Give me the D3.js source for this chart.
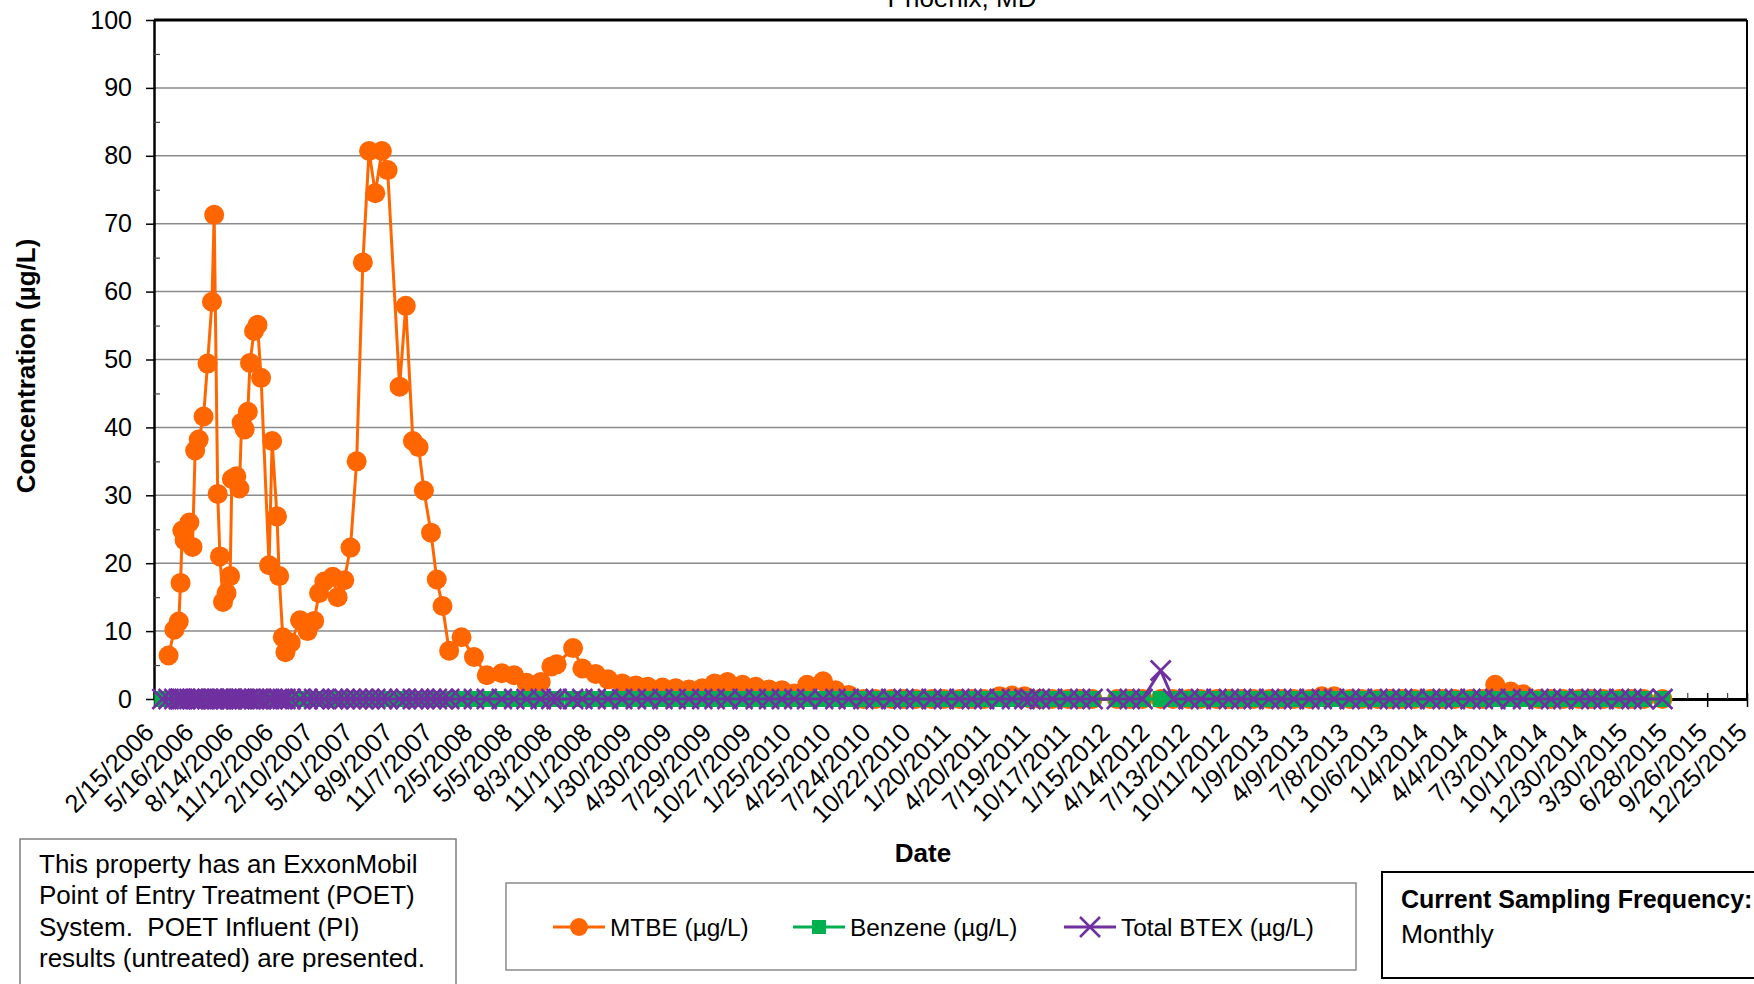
<!DOCTYPE html>
<html>
<head>
<meta charset="utf-8">
<script src="https://cdn.jsdelivr.net/npm/d3@7"></script>
<style>
  html, body { margin: 0; padding: 0; background: #fff; overflow: hidden; }
  svg { display: block; }
  text { font-family: "Liberation Sans", Arial, sans-serif; }
</style>
</head>
<body>
<svg id="chart" width="1754" height="984"></svg>
<script>
// === DATA ===

const chartTitle = 'Phoenix, MD';
const yTitle = 'Concentration (µg/L)';
const xTitle = 'Date';
const seriesNames = ['MTBE (µg/L)', 'Benzene (µg/L)', 'Total BTEX (µg/L)'];

// sampling dates, one row per year
const sampleDates = [
  '3/6/2006','3/20/2006','4/2/2006','4/12/2006','4/16/2006','4/20/2006','4/25/2006','5/6/2006','5/13/2006','5/19/2006',
  '5/27/2006','6/7/2006','6/16/2006','6/26/2006','7/1/2006','7/9/2006','7/14/2006','7/21/2006','7/29/2006','8/6/2006',
  '8/10/2006','8/20/2006','8/27/2006','9/1/2006','9/8/2006','9/15/2006','9/20/2006','9/29/2006','10/7/2006','10/15/2006',
  '11/2/2006','11/9/2006','11/20/2006','11/25/2006','12/3/2006','12/9/2006','12/21/2006',
  '1/11/2007','1/28/2007','2/12/2007','2/23/2007','3/7/2007','3/26/2007','4/6/2007','4/21/2007','5/5/2007','5/19/2007',
  '6/2/2007','6/16/2007','6/30/2007','7/15/2007','7/28/2007','8/24/2007','9/7/2007','9/23/2007','10/6/2007','10/18/2007',
  '11/3/2007','11/16/2007','11/29/2007','12/14/2007',
  '1/11/2008','2/8/2008','3/8/2008','4/11/2008','5/9/2008','6/6/2008','7/8/2008','8/1/2008','8/13/2008','9/19/2008',
  '10/10/2008','11/9/2008','12/7/2008',
  '1/8/2009','2/8/2009','3/7/2009','4/9/2009','5/9/2009','6/8/2009','7/8/2009','8/5/2009','9/3/2009','10/7/2009',
  '11/6/2009','12/6/2009',
  '1/4/2010','2/1/2010','3/2/2010','4/7/2010','5/5/2010','6/4/2010','7/7/2010','8/4/2010','9/8/2010','10/6/2010',
  '11/3/2010','12/8/2010',
  '1/5/2011','2/9/2011','3/9/2011','4/6/2011','5/11/2011','6/8/2011','7/6/2011','7/20/2011','8/10/2011','9/7/2011',
  '10/12/2011','11/9/2011','12/7/2011',
  '1/31/2012','2/29/2012','3/29/2012','5/9/2012','6/6/2012','7/11/2012','8/8/2012','9/12/2012','10/10/2012','11/7/2012',
  '12/5/2012',
  '1/9/2013','2/6/2013','3/6/2013','4/10/2013','5/8/2013','6/5/2013','7/10/2013','8/7/2013','9/11/2013','10/9/2013',
  '11/6/2013','12/4/2013',
  '1/8/2014','2/5/2014','3/5/2014','4/9/2014','5/7/2014','6/4/2014','7/9/2014','8/6/2014','9/10/2014','10/8/2014',
  '11/5/2014','12/10/2014',
  '1/7/2015','2/4/2015','3/11/2015','4/8/2015','5/6/2015','6/17/2015'
];

// MTBE (ug/L), null = not reported
const mtbe = [
  null,6.4,10.2,11.4,17.1,24.8,23.4,26.0,22.4,36.6,
  38.2,41.6,49.4,58.5,71.3,30.2,21.0,14.3,15.6,18.1,
  32.4,32.8,31.0,40.7,39.7,42.3,49.5,54.2,55.1,47.3,
  19.7,38.0,26.9,18.1,9.1,6.9,8.3,
  11.6,10.0,11.5,15.6,17.3,18.0,15.0,17.5,22.3,35.0,
  64.3,80.7,74.5,80.7,77.9,46.0,57.9,38.0,37.1,30.7,
  24.5,17.6,13.7,7.1,
  9.1,6.2,3.5,3.8,3.5,2.4,2.5,4.8,5.1,7.5,
  4.5,3.7,2.9,
  2.3,2.0,1.8,1.7,1.6,1.4,1.6,2.3,2.5,2.1,
  1.8,1.4,
  1.3,0.8,2.1,2.6,1.3,0.6,0,0,0,0,
  0,0,
  0,0,0,0,0.4,0.5,0.4,0,0,0,
  0,0,0,
  0,0,0,0,0,0,0,0,0,0,
  0,
  0,0,0,0,0.4,0.4,0,0,0,0,
  0,0,
  0,0,0,0,0,2.1,1.1,0.7,0,0,
  0,0,
  0,0,0,0,0,0
];

// Benzene (ug/L)
const benzene = [
  0,0,0,0,0,0,0,0,0,0, 0,0,0,0,0,0,0,0,0,0, 0,0,0,0,0,0,0,0,0,0, 0,0,0,0,0,0,0,
  0,0,0,0,0,0,0,0,0,0, 0,0,0,0,0,0,0,0,0,0, 0,0,0,0,
  0,0,0,0,0,0,0,0,0,0, 0,0,0,
  0,0,0,0,0,0,0,0,0,0, 0,0,
  0,0,0,0,0,0,0,0,0,0, 0,0,
  0,0,0,0,0,0,0,0,0,0, 0,0,0,
  0,0,0,0,0,0,0,0,0,0, 0,
  0,0,0,0,0,0,0,0,0,0, 0,0,
  0,0,0,0,0,0,0,0,0,0, 0,0,
  0,0,0,0,0,0
];

// Total BTEX (ug/L)
const btex = [
  0,0,0,0,0,0,0,0,0,0, 0,0,0,0,0,0,0,0,0,0, 0,0,0,0,0,0,0,0,0,0, 0,0,0,0,0,0,0,
  0,0,0,0,0,0,0,0,0,0, 0,0,0,0,0,0,0,0,0,0, 0,0,0,0,
  0,0,0,0,0,0,0,0,0,0, 0,0,0,
  0,0,0,0,0,0,0,0,0,0, 0,0,
  0,0,0,0,0,0,0,0,0,0, 0,0,
  0,0,0,0,0,0,0,0,0,0, 0,0,0,
  0,0,0,4.2,0,0,0,0,0,0, 0,
  0,0,0,0,0,0,0,0,0,0, 0,0,
  0,0,0,0,0,0,0,0,0,0, 0,0,
  0,0,0,0,0,0
];

// date axis labels (every 90 days)
const xTickLabels = [
  '2/15/2006','5/16/2006','8/14/2006','11/12/2006','2/10/2007','5/11/2007','8/9/2007','11/7/2007',
  '2/5/2008','5/5/2008','8/3/2008','11/1/2008','1/30/2009','4/30/2009','7/29/2009','10/27/2009',
  '1/25/2010','4/25/2010','7/24/2010','10/22/2010','1/20/2011','4/20/2011','7/19/2011','10/17/2011',
  '1/15/2012','4/14/2012','7/13/2012','10/11/2012','1/9/2013','4/9/2013','7/8/2013','10/6/2013',
  '1/4/2014','4/4/2014','7/3/2014','10/1/2014','12/30/2014','3/30/2015','6/28/2015','9/26/2015',
  '12/25/2015'
];

const yTicks = [0, 10, 20, 30, 40, 50, 60, 70, 80, 90, 100];
const yMinorTicks = [5, 15, 25, 35, 45, 55, 65, 75, 85, 95];

const noteLines = [
  'This property has an ExxonMobil',
  'Point of Entry Treatment (POET)',
  'System.  POET Influent (PI)',
  'results (untreated) are presented.'
];
const freqLabel = 'Current Sampling Frequency:';
const freqValue = 'Monthly';

// === END OF DATA ===

const colors = { mtbe: '#FF6600', benzene: '#00B050', btex: '#7030A0' };
const FONT = '"Liberation Sans", Arial, sans-serif';

const svg = d3.select('#chart');
const parse = d3.timeParse('%m/%d/%Y');

const rows = sampleDates.map((s, i) => ({
  date: parse(s), mtbe: mtbe[i], benzene: benzene[i], btex: btex[i]
}));
if (mtbe.length !== sampleDates.length || benzene.length !== sampleDates.length || btex.length !== sampleDates.length) {
  console.error('series length mismatch', sampleDates.length, mtbe.length, benzene.length, btex.length);
}

const majorDates = xTickLabels.map(parse);
const minorDates = majorDates.slice(0, -1).map(d => d3.timeDay.offset(d, 45));

// plot area
const plotL = 154, plotR = 1747, plotT = 20, plotB = 699;

const x = d3.scaleTime()
  .domain([majorDates[0], majorDates[majorDates.length - 1]])
  .range([plotL, plotR]);
const y = d3.scaleLinear().domain([0, 100]).range([plotB, plotT]);

// gridlines
svg.append('g')
  .selectAll('line')
  .data(yTicks.filter(v => v > 0 && v < 100))
  .join('line')
  .attr('x1', plotL).attr('x2', plotR)
  .attr('y1', d => y(d)).attr('y2', d => y(d))
  .attr('stroke', '#8a8a8a')
  .attr('stroke-width', 1.5);

// plot frame (top and right)
svg.append('line')
  .attr('x1', plotL).attr('x2', plotR).attr('y1', y(100)).attr('y2', y(100))
  .attr('stroke', '#000').attr('stroke-width', 3);
svg.append('line')
  .attr('x1', plotR).attr('x2', plotR).attr('y1', y(100)).attr('y2', y(0))
  .attr('stroke', '#000').attr('stroke-width', 2);

// y axis
const gy = svg.append('g')
  .attr('transform', `translate(${plotL},0)`)
  .call(d3.axisLeft(y).tickValues(yTicks).tickSize(8).tickSizeOuter(0).tickPadding(14));
gy.attr('font-family', FONT).attr('font-size', 25);
gy.select('.domain').attr('stroke', '#000').attr('stroke-width', 2.5);
gy.selectAll('.tick line').attr('stroke', '#000').attr('stroke-width', 1.5);
gy.selectAll('.tick text').attr('fill', '#000');

const gyMinor = svg.append('g')
  .attr('transform', `translate(${plotL},0)`)
  .call(d3.axisRight(y).tickValues(yMinorTicks).tickSize(6).tickSizeOuter(0).tickFormat(''));
gyMinor.select('.domain').remove();
gyMinor.selectAll('.tick line').attr('stroke', '#444').attr('stroke-width', 1.2);

// x axis
const gx = svg.append('g')
  .attr('transform', `translate(0,${plotB})`)
  .call(d3.axisBottom(x).tickValues(majorDates).tickSize(8).tickSizeOuter(0)
    .tickFormat((d, i) => xTickLabels[i]));
gx.attr('font-family', FONT).attr('font-size', 25.5);
gx.select('.domain').attr('stroke', '#000').attr('stroke-width', 3);
gx.selectAll('.tick line').attr('y1', -6).attr('y2', 8).attr('stroke', '#000').attr('stroke-width', 1.5);
gx.selectAll('.tick text')
  .attr('fill', '#000')
  .attr('x', null).attr('y', null).attr('dy', null)
  .attr('text-anchor', 'end')
  .attr('transform', 'translate(1,35) rotate(-45)');

const gxMinor = svg.append('g')
  .attr('transform', `translate(0,${plotB})`)
  .call(d3.axisTop(x).tickValues(minorDates).tickSize(6).tickSizeOuter(0).tickFormat(''));
gxMinor.select('.domain').remove();
gxMinor.selectAll('.tick line').attr('stroke', '#444').attr('stroke-width', 1.2);

// series
function drawLine(key, color) {
  const line = d3.line()
    .defined(d => d[key] != null)
    .x(d => x(d.date))
    .y(d => y(d[key]));
  svg.append('path')
    .datum(rows)
    .attr('fill', 'none')
    .attr('stroke', color)
    .attr('stroke-width', 3)
    .attr('stroke-linejoin', 'round')
    .attr('d', line);
}

// MTBE: circles
drawLine('mtbe', colors.mtbe);
svg.append('g')
  .selectAll('circle')
  .data(rows.filter(d => d.mtbe != null))
  .join('circle')
  .attr('cx', d => x(d.date))
  .attr('cy', d => y(d.mtbe))
  .attr('r', 10)
  .attr('fill', colors.mtbe);

// Benzene: squares
drawLine('benzene', colors.benzene);
svg.append('g')
  .selectAll('rect')
  .data(rows.filter(d => d.benzene != null))
  .join('rect')
  .attr('x', d => x(d.date) - 8)
  .attr('y', d => y(d.benzene) - 8)
  .attr('width', 16)
  .attr('height', 16)
  .attr('fill', colors.benzene);

// Total BTEX: x markers
drawLine('btex', colors.btex);
svg.append('g')
  .selectAll('path')
  .data(rows.filter(d => d.btex != null))
  .join('path')
  .attr('transform', d => `translate(${x(d.date)},${y(d.btex)})`)
  .attr('d', 'M-10,-10L10,10M-10,10L10,-10')
  .attr('fill', 'none')
  .attr('stroke', colors.btex)
  .attr('stroke-width', 2.6);

// titles
svg.append('text')
  .attr('x', 962).attr('y', 7)
  .attr('text-anchor', 'middle')
  .attr('font-size', 26)
  .text(chartTitle);

svg.append('text')
  .attr('transform', 'translate(35,366) rotate(-90)')
  .attr('text-anchor', 'middle')
  .attr('font-size', 26)
  .attr('font-weight', 'bold')
  .text(yTitle);

svg.append('text')
  .attr('x', 923).attr('y', 862)
  .attr('text-anchor', 'middle')
  .attr('font-size', 26)
  .attr('font-weight', 'bold')
  .text(xTitle);

// note box (left)
svg.append('rect')
  .attr('x', 20).attr('y', 839).attr('width', 436).attr('height', 160)
  .attr('fill', '#fff').attr('stroke', '#7f7f7f').attr('stroke-width', 1.5);
svg.append('g')
  .selectAll('text')
  .data(noteLines)
  .join('text')
  .attr('x', 39)
  .attr('y', (d, i) => 873 + i * 31.3)
  .attr('font-size', 26)
  .style('white-space', 'pre')
  .text(d => d);

// legend
const legend = svg.append('g');
legend.append('rect')
  .attr('x', 506).attr('y', 883).attr('width', 850).attr('height', 87)
  .attr('fill', '#fff').attr('stroke', '#8a8a8a').attr('stroke-width', 1.5);

const legendItems = [
  { name: seriesNames[0], color: colors.mtbe, lx: 553, shape: 'circle' },
  { name: seriesNames[1], color: colors.benzene, lx: 793, shape: 'square' },
  { name: seriesNames[2], color: colors.btex, lx: 1064, shape: 'x' }
];
const ly = 927;
legendItems.forEach(it => {
  const g = legend.append('g');
  g.append('line')
    .attr('x1', it.lx).attr('x2', it.lx + 52).attr('y1', ly).attr('y2', ly)
    .attr('stroke', it.color).attr('stroke-width', 3);
  const cx = it.lx + 26;
  if (it.shape === 'circle') {
    g.append('circle').attr('cx', cx).attr('cy', ly).attr('r', 9).attr('fill', it.color);
  } else if (it.shape === 'square') {
    g.append('rect').attr('x', cx - 7).attr('y', ly - 7).attr('width', 14).attr('height', 14).attr('fill', it.color);
  } else {
    g.append('path')
      .attr('transform', `translate(${cx},${ly})`)
      .attr('d', 'M-10,-10L10,10M-10,10L10,-10')
      .attr('fill', 'none').attr('stroke', it.color).attr('stroke-width', 2.5);
  }
  g.append('text')
    .attr('x', it.lx + 57).attr('y', ly + 8.5)
    .attr('font-size', 24.4)
    .text(it.name);
});

// sampling frequency box (right)
svg.append('rect')
  .attr('x', 1382).attr('y', 872).attr('width', 400).attr('height', 106)
  .attr('fill', '#fff').attr('stroke', '#000').attr('stroke-width', 2);
svg.append('text')
  .attr('x', 1401).attr('y', 908)
  .attr('font-family', 'Lato, "Open Sans", sans-serif')
  .attr('font-weight', 'bold')
  .attr('font-size', 25)
  .text(freqLabel);
svg.append('text')
  .attr('x', 1401).attr('y', 943)
  .attr('font-family', 'Lato, "Open Sans", sans-serif')
  .attr('font-size', 26.5)
  .text(freqValue);
</script>
</body>
</html>
